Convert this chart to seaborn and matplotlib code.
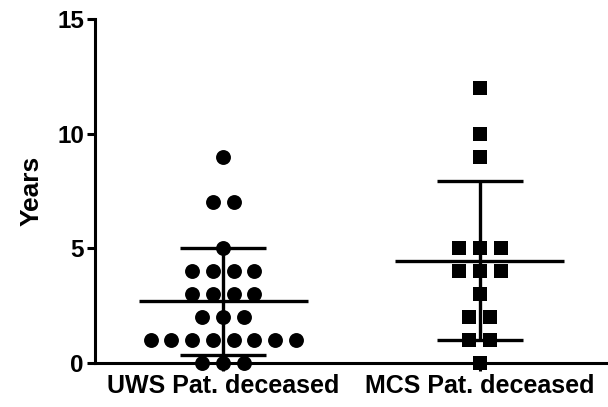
import numpy as np
import pandas as pd
import matplotlib
matplotlib.use("Agg")
import matplotlib.pyplot as plt
import seaborn as sns

# ------------------------------------------------------------
# Datos (años)
# ------------------------------------------------------------
groups = ["UWS Pat. deceased", "MCS Pat. deceased"]
uws_years = [9, 7, 7, 5, 4, 4, 4, 4, 3, 3, 3, 3, 2, 2, 2,
             1, 1, 1, 1, 1, 1, 1, 1, 0, 0, 0]
mcs_years = [12, 10, 9, 5, 5, 5, 4, 4, 4, 3, 2, 2, 1, 1, 0]
y_ticks = [0, 5, 10, 15]

sns.set_style("ticks")
plt.rcParams["font.family"] = ["Liberation Sans", "DejaVu Sans"]
plt.rcParams["font.weight"] = "bold"
for k in ["text.color", "axes.labelcolor", "xtick.color", "ytick.color",
          "xtick.labelcolor", "ytick.labelcolor"]:
    plt.rcParams[k] = "black"


def column_layout(values, center, step=0.081):
    # posiciones tipo "scatter dot plot": filas centradas por valor
    vals = np.asarray(values)
    xs = np.zeros(len(vals), dtype=float)
    for v in np.unique(vals):
        idx = np.where(vals == v)[0]
        n = len(idx)
        xs[idx] = center + (np.arange(n) - (n - 1) / 2) * step
    return xs


df = pd.concat([
    pd.DataFrame({"group": groups[0], "years": uws_years,
                  "xpos": column_layout(uws_years, 0)}),
    pd.DataFrame({"group": groups[1], "years": mcs_years,
                  "xpos": column_layout(mcs_years, 1)}),
], ignore_index=True)

stats = df.groupby("group", sort=False)["years"].agg(["mean", "std"])

fig = plt.figure(figsize=(6.08, 4.07), dpi=100)
ax = fig.add_axes([95 / 608, 44 / 407, 513 / 608, 344 / 407])

sns.scatterplot(data=df[df.group == groups[0]], x="xpos", y="years", ax=ax,
                marker="o", s=115, color="black", edgecolor="black",
                linewidth=0, legend=False, clip_on=False, zorder=3)
sns.scatterplot(data=df[df.group == groups[1]], x="xpos", y="years", ax=ax,
                marker="s", s=95, color="black", edgecolor="black",
                linewidth=0, legend=False, clip_on=False, zorder=3)

# media +/- desviacion estandar
for i, g in enumerate(groups):
    m, sd = stats.loc[g, "mean"], stats.loc[g, "std"]
    ax.hlines(m, i - 0.33, i + 0.33, color="black", lw=2.4, zorder=4)
    ax.hlines([m - sd, m + sd], i - 0.167, i + 0.167, color="black", lw=2.4, zorder=4)
    ax.vlines(i, m - sd, m + sd, color="black", lw=2.4, zorder=4)

ax.set_xlim(-0.5, 1.5)
ax.set_ylim(0, 15)
ax.set_yticks(y_ticks)
ax.set_xticks([0, 1])
ax.set_xticklabels(groups, fontsize=18, fontweight="bold", color="black")
ax.set_yticklabels([str(t) for t in y_ticks], fontsize=17.5, fontweight="bold",
                   color="black")
ax.set_xlabel("")
ax.set_ylabel("Years", fontsize=19, fontweight="bold", labelpad=10, color="black")
ax.tick_params(axis="both", length=6, width=2.2, pad=2, color="black")
sns.despine(ax=ax)
for sp in ["left", "bottom"]:
    ax.spines[sp].set_linewidth(2.2)
    ax.spines[sp].set_color("black")

fig.savefig("out.png", dpi=100)
